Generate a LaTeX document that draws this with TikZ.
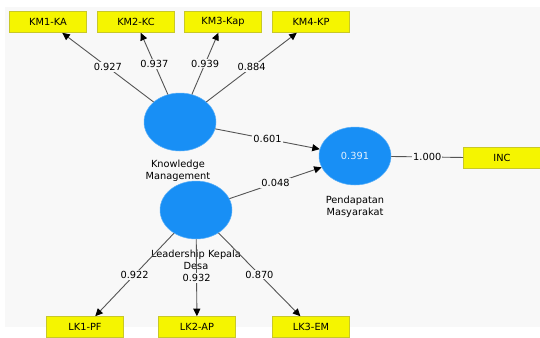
\documentclass[tikz,border=0pt]{standalone}
\usepackage{fontspec}
\setmainfont{DejaVu Sans}
\usetikzlibrary{arrows.meta,shapes.geometric}
\definecolor{canvasgrey}{RGB}{248,248,248}
\definecolor{indyellow}{RGB}{245,245,0}
\definecolor{indedge}{RGB}{200,200,40}
\definecolor{latblue}{RGB}{24,143,245}
\definecolor{pathgrey}{RGB}{85,85,85}

\begin{document}
\begin{tikzpicture}[
  x=1pt, y=-1pt,
  font=\fontsize{9.8}{11.5}\selectfont,
  ind/.style={draw=indedge, fill=indyellow, line width=0.6pt,
    minimum width=77pt, minimum height=21pt, inner sep=1pt},
  lat/.style={ellipse, fill=latblue, draw=latblue!70!white, line width=0.5pt,
    minimum width=72pt, minimum height=58pt, inner sep=0pt,
    text=white!88!latblue},
  lbltxt/.style={align=center, inner sep=0pt},
  arr/.style={-{Triangle[length=7.5pt, width=7pt, black]}, draw=pathgrey,
    line width=0.9pt},
  lnk/.style={draw=pathgrey, line width=0.9pt},
  val/.style={fill=canvasgrey, inner sep=1.2pt, pos=0.5}
]
\useasboundingbox (0,0) rectangle (540,337);
\fill[canvasgrey] (5,7) rectangle (540,327);

\node[ind] (km1) at (48,22)  {KM1-KA};
\node[ind] (km2) at (136,22) {KM2-KC};
\node[ind] (km3) at (223,22) {KM3-Kap};
\node[ind] (km4) at (311,22) {KM4-KP};
\node[ind] (lk1) at (85,327)  {LK1-PF};
\node[ind] (lk2) at (197,327) {LK2-AP};
\node[ind] (lk3) at (311,327) {LK3-EM};
\node[ind] (inc) at (502,158) {INC};

\node[lat] (km) at (180,122) {};
\node[lat] (lk) at (196,210) {};
\node[lat] (pm) at (355,156) {0.391};

\node[lbltxt] (kmcap) at (178,171) {Knowledge\\Management};
\node[lbltxt] (lkcap) at (196,260) {Leadership Kepala\\Desa};
\node[lbltxt] (pmcap) at (355,207) {Pendapatan\\Masyarakat};

\draw[arr] (km) -- node[val] {0.927} (km1);
\draw[arr] (km) -- node[val] {0.937} (km2);
\draw[arr] (km) -- node[val] {0.939} (km3);
\draw[arr] (km) -- node[val] {0.884} (km4);
\draw[arr] (lk) -- node[val] {0.922} (lk1);
\draw[arr] (lk) -- node[val] {0.932} (lk2);
\draw[arr] (lk) -- node[val] {0.870} (lk3);
\draw[arr] (km) -- node[val] {0.601} (pm);
\draw[arr] (lk) -- node[val] {0.048} (pm);
\draw[lnk] (pm) -- node[val] {1.000} (inc);
\end{tikzpicture}
\end{document}
